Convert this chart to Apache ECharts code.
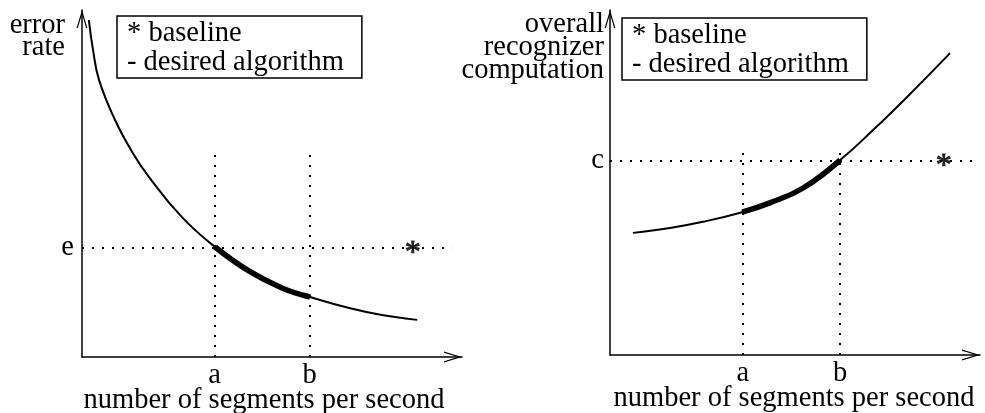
<!DOCTYPE html>
<html><head><meta charset="utf-8">
<script src="https://cdn.jsdelivr.net/npm/echarts@6/dist/echarts.min.js"></script>
<style>html,body{margin:0;padding:0;background:#fff}#c{width:985px;height:413px}</style>
</head><body><div id="c"></div><script>
// ---- Left panel: error rate vs number of segments per second ----
const errX = [1.8, 2.9, 4.5, 8.7, 13.2, 17.6, 26.3, 35.0, 43.9, 52.6, 60.0, 70.3, 78.9, 88.2];
const errY = [97.1, 88.5, 79.8, 68.3, 59.1, 51.9, 40.3, 31.7, 24.8, 19.9, 17.3, 14.1, 12.1, 10.7];
const errDesiredX = [35.0, 43.9, 52.6, 60.0];
const errDesiredY = [31.7, 24.8, 19.9, 17.3];
const errXTicks = [34.9, 59.9];
const errXTickLabels = ['a', 'b'];
const errYTicks = [31.6];
const errYTickLabels = ['e'];
const errStarX = 86.8;
const errLineEnd = 97.4;
const errVTop = 59.7;

// ---- Right panel: overall recognizer computation ----
const compX = [6.2, 16.2, 25.1, 35.7, 43.2, 52.2, 62.2, 71.1, 80.3, 91.9];
const compY = [35.4, 36.8, 38.6, 41.4, 44.1, 48.4, 56.5, 65.2, 74.8, 87.5];
const compDesiredX = [35.7, 43.2, 52.2, 62.2];
const compDesiredY = [41.4, 44.1, 48.4, 56.5];
const compXTicks = [35.9, 62.2];
const compXTickLabels = ['a', 'b'];
const compYTicks = [56.3];
const compYTickLabels = ['c'];
const compStarX = 89.9;
const compLineEnd = 100;
const compVTop = 60;

const legendNames = ['* baseline', '- desired algorithm'];

const FONT = 'Liberation Serif';
const FS = 28.5;
const ARROW = 'path://M0,20 L6,0 L12,20 L10.6,20 L6,4.5 L1.4,20 Z';
const zip = (a, b) => a.map((v, i) => [v, b[i]]);

function axisLineCfg() {
  return { show: true, onZero: false, symbol: ['none', ARROW], symbolSize: [11, 18], symbolOffset: [0, -9],
    lineStyle: { color: '#000', width: 1.5 } };
}
function xAxisCfg(gi, ticks, labels, nameGap, namePad) {
  return {
    type: 'value', gridIndex: gi, min: 0, max: 100,
    axisLine: axisLineCfg(), axisTick: { show: false }, splitLine: { show: false },
    axisLabel: { customValues: ticks, formatter: v => labels[ticks.indexOf(v)] || '', fontSize: FS, fontFamily: FONT, color: '#000', margin: 4 },
    name: 'number of segments per second', nameLocation: 'middle', nameGap: nameGap, nameMoveOverlap: false,
    nameTextStyle: { fontSize: FS, fontFamily: FONT, color: '#000', padding: namePad }
  };
}
function yAxisCfg(gi, ticks, labels, name, nameGap, namePad, margin, lh, labPad) {
  return {
    type: 'value', gridIndex: gi, min: 0, max: 100,
    axisLine: axisLineCfg(), axisTick: { show: false }, splitLine: { show: false },
    axisLabel: { customValues: ticks, formatter: v => labels[ticks.indexOf(v)] || '', fontSize: FS, fontFamily: FONT, color: '#000', margin: margin, padding: labPad },
    name: name, nameLocation: 'end', nameGap: nameGap, nameMoveOverlap: false,
    nameTextStyle: { fontSize: FS, fontFamily: FONT, color: '#000', align: 'right', verticalAlign: 'top', lineHeight: lh, padding: namePad }
  };
}
function panelSeries(gi, name, xs, ys, dx, dy, xt, yt, starX, lineEnd, vTop) {
  const dot = { type: [2, 8], color: '#000', width: 2, cap: 'butt' };
  return [
    { type: 'line', name: name, xAxisIndex: gi, yAxisIndex: gi, data: zip(xs, ys), smooth: 0.45, symbol: 'none',
      lineStyle: { color: '#000', width: 2 }, itemStyle: { color: '#000' }, z: 3,
      markLine: { silent: true, symbol: ['none', 'none'], label: { show: false }, lineStyle: dot,
        data: [
          [{ coord: [0, yt[0]] }, { coord: [lineEnd, yt[0]] }],
          [{ coord: [xt[0], 0] }, { coord: [xt[0], vTop] }],
          [{ coord: [xt[1], 0] }, { coord: [xt[1], vTop] }]
        ] } },
    { type: 'line', name: legendNames[1], xAxisIndex: gi, yAxisIndex: gi, data: zip(dx, dy), smooth: 0.45, symbol: 'none',
      lineStyle: { color: '#000', width: 5.5 }, itemStyle: { color: '#000' }, z: 4 },
    { type: 'scatter', name: legendNames[0], xAxisIndex: gi, yAxisIndex: gi, data: [[starX, yt[0]]], symbolSize: 1,
      itemStyle: { color: 'rgba(0,0,0,0)' }, z: 5,
      label: { show: true, position: 'inside', formatter: '*', fontSize: 32, fontFamily: FONT, color: '#000',
        textBorderColor: '#000', textBorderWidth: 1, offset: [1, 6] } }
  ];
}
function legendCfg(left, top) {
  return { left: left, top: top, orient: 'vertical', selectedMode: false,
    data: legendNames.map(n => ({ name: n, icon: 'none' })),
    itemWidth: 0, itemHeight: 0, itemGap: 0, padding: [3, 18, 1, 5],
    borderColor: '#000', borderWidth: 1.5,
    textStyle: { fontSize: FS, fontFamily: FONT, color: '#000', lineHeight: 29 } };
}

const chart = echarts.init(document.getElementById('c'), null, { renderer: 'canvas' });
chart.setOption({
  animation: false,
  backgroundColor: '#fff',
  textStyle: { fontFamily: FONT },
  grid: [
    { left: 82, top: 10, width: 380, height: 347, outerBoundsMode: 'none', containLabel: false },
    { left: 610, top: 10, width: 370, height: 345, outerBoundsMode: 'none', containLabel: false }
  ],
  legend: [legendCfg(117, 16), legendCfg(622, 18)],
  xAxis: [
    xAxisCfg(0, errXTicks, errXTickLabels, 29, [0, 16, 0, 0]),
    xAxisCfg(1, compXTicks, compXTickLabels, 29, [0, 2, 0, 0])
  ],
  yAxis: [
    yAxisCfg(0, errYTicks, errYTickLabels, 'error\nrate', -5, [0, 17, 0, 0], 8, 22, [10, 0, 0, 0]),
    yAxisCfg(1, compYTicks, compYTickLabels, 'overall\nrecognizer\ncomputation', -3, [0, 6, 0, 0], 6, 23, [6, 0, 0, 0])
  ],
  series: [
    ...panelSeries(0, 'error rate', errX, errY, errDesiredX, errDesiredY, errXTicks, errYTicks, errStarX, errLineEnd, errVTop),
    ...panelSeries(1, 'overall recognizer computation', compX, compY, compDesiredX, compDesiredY, compXTicks, compYTicks, compStarX, compLineEnd, compVTop)
  ]
});
</script></body></html>
